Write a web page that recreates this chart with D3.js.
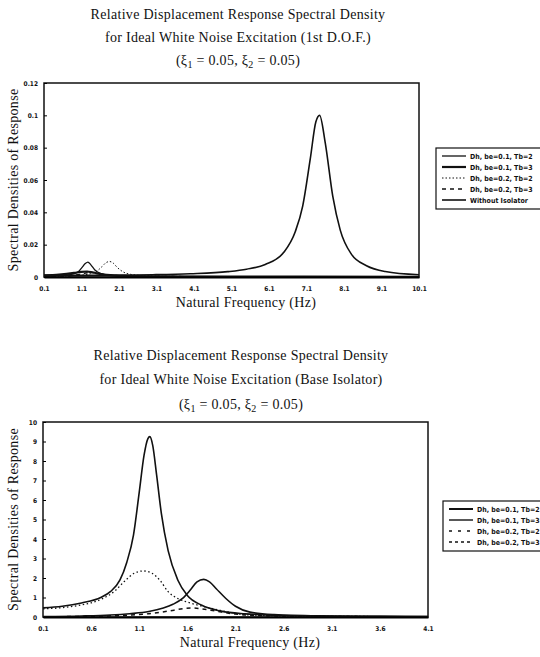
<!DOCTYPE html>
<html>
<head>
<meta charset="utf-8">
<script src="https://cdnjs.cloudflare.com/ajax/libs/d3/7.8.5/d3.min.js"></script>
<style>
  body { margin: 0; background: #fff; }
  svg { display: block; }
  .title { font-family: "Liberation Serif", "DejaVu Serif", serif; font-size: 14px; letter-spacing: 0.3px; fill: #111; }
  .tick text { font-family: "DejaVu Sans Condensed", "DejaVu Sans", sans-serif; font-size: 6.5px; font-weight: bold; fill: #111; }
  .legend text { font-family: "DejaVu Sans Condensed", "DejaVu Sans", sans-serif; font-size: 7px; font-weight: bold; fill: #111; }
</style>
</head>
<body>
<svg id="svg-1" width="540" height="657"></svg>
<script>
// ---- top panel: 1st D.O.F. ----
const topXTicks = [0.1, 1.1, 2.1, 3.1, 4.1, 5.1, 6.1, 7.1, 8.1, 9.1, 10.1];
const topYTicks = [0, 0.02, 0.04, 0.06, 0.08, 0.1, 0.12];
const topLabels = ["Dh, be=0.1, Tb=2", "Dh, be=0.1, Tb=3", "Dh, be=0.2, Tb=2", "Dh, be=0.2, Tb=3", "Without Isolator"];

const topF1 = [0.1, 0.5, 0.8, 1.0, 1.1, 1.2, 1.27, 1.35, 1.45, 1.6, 1.8, 2.1, 2.6, 3.5, 5, 7, 10.1];
const topV1 = [0.0005, 0.0008, 0.0015, 0.003, 0.0055, 0.0083, 0.0092, 0.0075, 0.0045, 0.0022, 0.0012, 0.0007, 0.0004, 0.0003, 0.0002, 0.0002, 0.0001];
const topF2 = [0.1, 0.5, 0.9, 1.1, 1.25, 1.4, 1.7, 2.2, 3, 5, 7, 10.1];
const topV2 = [0.001, 0.0015, 0.0025, 0.0032, 0.0034, 0.0028, 0.0015, 0.0008, 0.0004, 0.0002, 0.0002, 0.0001];
const topF3 = [0.1, 0.6, 1.0, 1.3, 1.5, 1.65, 1.75, 1.85, 1.95, 2.05, 2.2, 2.4, 2.8, 3.5, 5, 7, 10.1];
const topV3 = [0.0004, 0.0006, 0.001, 0.0018, 0.0035, 0.0065, 0.0088, 0.0096, 0.0085, 0.006, 0.0033, 0.0017, 0.0008, 0.0004, 0.0002, 0.0002, 0.0001];
const topF4 = [0.1, 0.6, 1.0, 1.2, 1.35, 1.5, 1.7, 2.0, 2.5, 3.5, 5, 7, 10.1];
const topV4 = [0.0003, 0.0006, 0.0014, 0.0024, 0.003, 0.0026, 0.0016, 0.0009, 0.0005, 0.0003, 0.0002, 0.0002, 0.0001];
const topF5 = [0.1, 1, 2, 3, 4, 5, 5.5, 6, 6.5, 6.8, 7.0, 7.2, 7.35, 7.45, 7.6, 7.8, 8.0, 8.3, 8.7, 9.2, 10.1];
const topV5 = [0.001, 0.001, 0.0011, 0.0014, 0.002, 0.0033, 0.0048, 0.0077, 0.0154, 0.028, 0.044, 0.073, 0.096, 0.1, 0.083, 0.05, 0.029, 0.014, 0.007, 0.0034, 0.0014];

// ---- bottom panel: base isolator ----
const botXTicks = [0.1, 0.6, 1.1, 1.6, 2.1, 2.6, 3.1, 3.6, 4.1];
const botYTicks = [0, 1, 2, 3, 4, 5, 6, 7, 8, 9, 10];
const botLabels = ["Dh, be=0.1, Tb=2", "Dh, be=0.1, Tb=3", "Dh, be=0.2, Tb=2", "Dh, be=0.2, Tb=3"];

const botF1 = [0.1, 0.3, 0.5, 0.7, 0.8, 0.9, 0.97, 1.04, 1.1, 1.15, 1.19, 1.21, 1.24, 1.28, 1.33, 1.4, 1.5, 1.6, 1.75, 1.95, 2.2, 2.6, 3.1, 3.6, 4.1];
const botV1 = [0.47, 0.55, 0.72, 1.0, 1.3, 1.9, 2.8, 4.2, 6.4, 8.3, 9.15, 9.25, 8.8, 7.3, 5.3, 3.4, 1.9, 1.1, 0.6, 0.3, 0.16, 0.08, 0.05, 0.03, 0.02];
const botF2 = [0.1, 0.5, 0.8, 1.0, 1.2, 1.35, 1.45, 1.55, 1.63, 1.7, 1.77, 1.83, 1.9, 2.0, 2.1, 2.25, 2.5, 3.0, 3.5, 4.1];
const botV2 = [0.02, 0.05, 0.1, 0.17, 0.28, 0.46, 0.65, 0.95, 1.38, 1.8, 1.93, 1.8, 1.45, 0.95, 0.55, 0.25, 0.12, 0.05, 0.03, 0.02];
const botF3 = [0.1, 0.6, 1.0, 1.2, 1.4, 1.55, 1.65, 1.75, 1.9, 2.1, 2.4, 3.0, 4.1];
const botV3 = [0.01, 0.04, 0.1, 0.17, 0.3, 0.42, 0.46, 0.42, 0.3, 0.15, 0.07, 0.03, 0.01];
const botF4 = [0.1, 0.3, 0.5, 0.7, 0.85, 0.95, 1.05, 1.14, 1.23, 1.32, 1.4, 1.5, 1.63, 1.8, 2.0, 2.2, 2.6, 3.1, 4.1];
const botV4 = [0.42, 0.48, 0.62, 0.9, 1.35, 1.85, 2.25, 2.36, 2.25, 1.85, 1.3, 0.95, 0.72, 0.5, 0.28, 0.12, 0.06, 0.03, 0.02];

function zip(fs, vs) { return fs.map((f, i) => ({ f: f, v: vs[i] })); }

const svg = d3.select("#svg-1");

function drawPanel(p) {
  const x = d3.scaleLinear().domain([p.xTicks[0], p.xTicks[p.xTicks.length - 1]]).range([p.left, p.right]);
  const y = d3.scaleLinear().domain([0, p.yTicks[p.yTicks.length - 1]]).range([p.bottom, p.top]);

  // titles
  p.titles.forEach(function(t, i) {
    const txt = svg.append("text").attr("class", "title")
      .attr("x", p.titleX).attr("y", p.titleY[i])
      .attr("text-anchor", "middle");
    if (i < 2) { txt.text(t); return; }
    txt.append("tspan").text("(\u03be");
    txt.append("tspan").attr("dy", 3).attr("font-size", 10).text("1");
    txt.append("tspan").attr("dy", -3).text(" = 0.05,  \u03be");
    txt.append("tspan").attr("dy", 3).attr("font-size", 10).text("2");
    txt.append("tspan").attr("dy", -3).text(" = 0.05)");
  });

  const g = svg.append("g");

  // curves
  const line = d3.line().x(d => x(d.f)).y(d => y(d.v)).curve(d3.curveMonotoneX);
  p.series.forEach(function(s) {
    g.append("path")
      .datum(zip(s.f, s.v))
      .attr("fill", "none")
      .attr("stroke", "#111")
      .attr("stroke-width", s.w)
      .attr("stroke-dasharray", s.dash)
      .attr("d", line);
  });

  // frame
  g.append("rect")
    .attr("x", p.left).attr("y", p.top)
    .attr("width", p.right - p.left).attr("height", p.bottom - p.top)
    .attr("fill", "none").attr("stroke", "#111").attr("stroke-width", 1.5);

  // axes
  g.append("g")
    .attr("transform", "translate(0," + p.bottom + ")")
    .call(d3.axisBottom(x).tickValues(p.xTicks).tickSize(0).tickPadding(9).tickFormat(d3.format(".1f")))
    .call(a => a.select(".domain").attr("stroke-width", 2));
  g.append("g")
    .attr("transform", "translate(" + p.left + ",0)")
    .call(d3.axisLeft(y).tickValues(p.yTicks).tickSize(-3).tickPadding(6).tickFormat(d => d3.format("~g")(d)))
    .call(a => a.select(".domain").remove());

  // axis titles
  svg.append("text").attr("class", "title")
    .attr("x", p.xTitleX).attr("y", p.xTitleY)
    .attr("text-anchor", "middle")
    .text("Natural Frequency (Hz)");
  svg.append("text").attr("class", "title")
    .attr("transform", "translate(" + 18 + "," + ((p.top + p.bottom) / 2) + ") rotate(-90)")
    .attr("text-anchor", "middle")
    .text("Spectral Densities of Response");

  // legend
  const lg = svg.append("g").attr("class", "legend");
  lg.append("rect")
    .attr("x", p.legX).attr("y", p.legY)
    .attr("width", 540 - p.legX + 6).attr("height", p.series.length * 11 + 6)
    .attr("fill", "#fff").attr("stroke", "#111").attr("stroke-width", 1.2);
  p.series.forEach(function(s, i) {
    const yy = p.legY + 8 + i * 11;
    lg.append("line")
      .attr("x1", p.legX + 6).attr("x2", p.legX + 30)
      .attr("y1", yy).attr("y2", yy)
      .attr("stroke", "#111").attr("stroke-width", s.lw || s.w)
      .attr("stroke-dasharray", s.ldash || s.dash);
    lg.append("text")
      .attr("x", p.legX + 34).attr("y", yy + 2.5)
      .text(p.labels[i]);
  });
}

drawPanel({
  titles: ["Relative Displacement Response Spectral Density",
           "for Ideal White Noise Excitation (1st D.O.F.)", ""],
  titleX: 238, titleY: [19, 42, 65],
  left: 44, right: 419, top: 83, bottom: 277,
  xTicks: topXTicks, yTicks: topYTicks,
  xTitleX: 246, xTitleY: 307,
  legX: 436, legY: 148,
  labels: topLabels,
  series: [
    { f: topF1, v: topV1, w: 1.3, dash: null },
    { f: topF2, v: topV2, w: 2.2, dash: null },
    { f: topF3, v: topV3, w: 1, dash: "1.5,2" },
    { f: topF4, v: topV4, w: 1.4, dash: "4,4" },
    { f: topF5, v: topV5, w: 1.6, dash: null }
  ]
});

drawPanel({
  titles: ["Relative Displacement Response Spectral Density",
           "for Ideal White Noise Excitation (Base Isolator)", ""],
  titleX: 241, titleY: [360, 384, 409],
  left: 43, right: 428, top: 422, bottom: 617,
  xTicks: botXTicks, yTicks: botYTicks,
  xTitleX: 250, xTitleY: 647,
  legX: 443, legY: 501,
  labels: botLabels,
  series: [
    { f: botF1, v: botV1, w: 1.6, dash: null, lw: 2 },
    { f: botF2, v: botV2, w: 1.6, dash: null, lw: 1.4 },
    { f: botF3, v: botV3, w: 1.5, dash: "4,4", ldash: "3,6" },
    { f: botF4, v: botV4, w: 1.3, dash: "1.5,2.5", ldash: "3,3" }
  ]
});
</script>
</body>
</html>
